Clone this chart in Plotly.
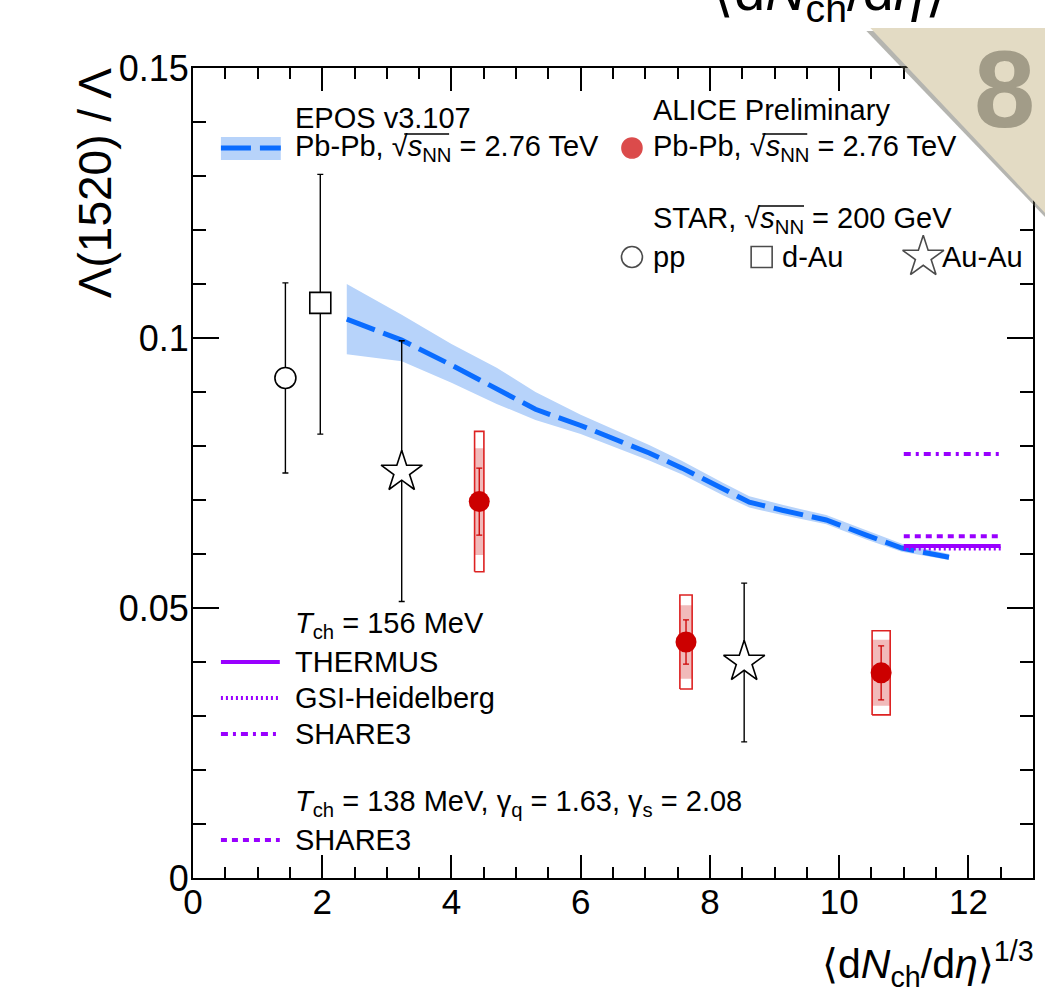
import plotly.graph_objects as go

# ---------------- data ----------------
# EPOS v3.107, Pb-Pb 2.76 TeV: central curve and uncertainty band
epos_x = [2.38, 3.23, 4.0, 4.7, 5.3, 6.0, 7.06, 7.57, 8.2, 8.61, 9.12, 9.8, 10.42, 10.97, 11.7]
epos_y = [0.1035, 0.0996, 0.0950, 0.0905, 0.0868, 0.0838, 0.0787, 0.0759, 0.0720, 0.0696, 0.0681, 0.0663, 0.0635, 0.0611, 0.0594]
epos_hi = [0.1100, 0.1043, 0.0989, 0.0945, 0.0900, 0.0858, 0.0802, 0.0772, 0.0732, 0.0707, 0.0691, 0.0672, 0.0644, 0.0619, 0.0600]
epos_lo = [0.0970, 0.0957, 0.0917, 0.0878, 0.0848, 0.0822, 0.0773, 0.0747, 0.0709, 0.0686, 0.0672, 0.0655, 0.0627, 0.0604, 0.0589]

# ALICE Preliminary, Pb-Pb 2.76 TeV
alice_x = [4.43, 7.63, 10.65]
alice_y = [0.0697, 0.0437, 0.0380]
alice_stat = [0.0062, 0.0041, 0.0050]
alice_sys_total = [0.0130, 0.0087, 0.0078]
alice_sys_uncorr = [0.0099, 0.0068, 0.0061]
alice_box_halfwidth = [0.072, 0.095, 0.14]

# STAR, 200 GeV
star_pp_x, star_pp_y, star_pp_up, star_pp_dn = [1.43], [0.0926], [0.0176], [0.0176]
star_dau_x, star_dau_y, star_dau_up, star_dau_dn = [1.97], [0.1065], [0.0238], [0.0243]
star_auau_x = [3.23, 8.53]
star_auau_y = [0.0752, 0.0400]
star_auau_up = [0.0243, 0.0146]
star_auau_dn = [0.0240, 0.0148]

# Statistical-model predictions (plotted over the most central range)
model_x = [11.0, 12.5]
thermus_156 = 0.0615
gsi_156 = 0.0610
share3_156 = 0.0785
share3_138 = 0.0633

x_ticks = [0, 2, 4, 6, 8, 10, 12]
y_ticks = [0, 0.05, 0.1, 0.15]
y_tick_text = ["0", "0.05", "0.1", "0.15"]

# ---------------- styling ----------------
W, H = 1045, 989
L, R, T, B = 193, 1035, 68, 878
FONT = "Liberation Sans, Arial, Helvetica, sans-serif"
BLUE = "#0a6cff"
BAND = "#b7d3fa"
RED = "#cc0000"
PURPLE = "#9900ff"
EPOS_DASH = "30px,9px"
LEG_SIZE = 29


def px(x):
    return (x - L) / (R - L)


def py(y):
    return (B - y) / (B - T)


fig = go.Figure()

# EPOS band and curve
fig.add_trace(go.Scatter(x=epos_x, y=epos_lo, mode="lines", line=dict(width=0),
                         hoverinfo="skip", showlegend=False))
fig.add_trace(go.Scatter(x=epos_x, y=epos_hi, mode="lines", line=dict(width=0),
                         fill="tonexty", fillcolor=BAND, showlegend=False))
fig.add_trace(go.Scatter(x=epos_x, y=epos_y, mode="lines",
                         line=dict(color=BLUE, width=5, dash=EPOS_DASH), showlegend=False))

# statistical-model lines
for val, dash in [(share3_156, "7px,5px,3px,5px"), (share3_138, "6px,5px"),
                  (thermus_156, "solid"), (gsi_156, "2px,3px")]:
    fig.add_trace(go.Scatter(x=model_x, y=[val, val], mode="lines",
                             line=dict(color=PURPLE, width=4, dash=dash), showlegend=False))


def boxes(xs, ys, dys, dxs):
    bx, by = [], []
    for x, y, dy, dx in zip(xs, ys, dys, dxs):
        bx += [x - dx, x + dx, x + dx, x - dx, x - dx, None]
        by += [y - dy, y - dy, y + dy, y + dy, y - dy, None]
    return bx, by


# ALICE systematic boxes: total (open) and uncorrelated (shaded)
bx, by = boxes(alice_x, alice_y, alice_sys_uncorr, alice_box_halfwidth)
fig.add_trace(go.Scatter(x=bx, y=by, mode="lines", fill="toself",
                         fillcolor="rgba(204,0,0,0.27)", line=dict(width=0), showlegend=False))
bx, by = boxes(alice_x, alice_y, alice_sys_total, alice_box_halfwidth)
fig.add_trace(go.Scatter(x=bx, y=by, mode="lines", line=dict(color="#dd2222", width=1.6),
                         showlegend=False))
fig.add_trace(go.Scatter(x=alice_x, y=alice_y, mode="markers",
                         marker=dict(symbol="circle", size=21, color=RED),
                         error_y=dict(type="data", array=alice_stat, color=RED,
                                      thickness=1.3, width=3),
                         showlegend=False))

# STAR points
star_marker_line = dict(color="black", width=1.6)
fig.add_trace(go.Scatter(x=star_pp_x, y=star_pp_y, mode="markers",
                         marker=dict(symbol="circle", size=21, color="white", line=star_marker_line),
                         error_y=dict(type="data", symmetric=False, array=star_pp_up,
                                      arrayminus=star_pp_dn, color="black", thickness=1.4, width=3),
                         showlegend=False))
fig.add_trace(go.Scatter(x=star_dau_x, y=star_dau_y, mode="markers",
                         marker=dict(symbol="square", size=21, color="white", line=star_marker_line),
                         error_y=dict(type="data", symmetric=False, array=star_dau_up,
                                      arrayminus=star_dau_dn, color="black", thickness=1.4, width=3),
                         showlegend=False))
fig.add_trace(go.Scatter(x=star_auau_x, y=star_auau_y, mode="markers",
                         marker=dict(symbol="star", size=31, color="white", line=star_marker_line),
                         error_y=dict(type="data", symmetric=False, array=star_auau_up,
                                      arrayminus=star_auau_dn, color="black", thickness=1.4, width=3),
                         showlegend=False))

# legend keys, placed on a pixel-scaled overlay axis pair
key_x = [633, 633, 763, 925]
key_y = [148, 257, 257, 257]
fig.add_trace(go.Scatter(x=key_x, y=key_y, xaxis="x2", yaxis="y2", mode="markers",
                         marker=dict(symbol=["circle", "circle", "square", "star"],
                                     size=[20, 21, 21, 31],
                                     color=[RED, "white", "white", "white"],
                                     line=dict(color=[RED, "black", "black", "black"], width=1.6)),
                         hoverinfo="skip", showlegend=False))

shapes = []
# EPOS legend key
shapes.append(dict(type="rect", xref="paper", yref="paper", x0=px(221), x1=px(281),
                   y0=py(160), y1=py(137), fillcolor=BAND, line=dict(width=0), layer="below"))
shapes.append(dict(type="line", xref="paper", yref="paper", x0=px(221), x1=px(281),
                   y0=py(148), y1=py(148), line=dict(color=BLUE, width=5, dash=EPOS_DASH)))
# model legend keys
for yk, dash in [(662, "solid"), (698, "2px,3px"), (734, "7px,5px,3px,5px"), (840, "6px,5px")]:
    shapes.append(dict(type="line", xref="paper", yref="paper", x0=px(221), x1=px(280),
                       y0=py(yk), y1=py(yk), line=dict(color=PURPLE, width=4, dash=dash)))

# page-number corner badge
tri = [(872, 28), (1048, 28), (1048, 214)]
shadow = [(868, 31), (1048, 31), (1048, 218)]


def path(pts):
    return "M " + " L ".join(f"{px(a):.5f},{py(b):.5f}" for a, b in pts) + " Z"


shapes.append(dict(type="path", xref="paper", yref="paper", path=path(shadow),
                   fillcolor="rgba(90,90,80,0.45)", line=dict(width=0), layer="above"))
shapes.append(dict(type="path", xref="paper", yref="paper", path=path(tri),
                   fillcolor="#e3dbc4", line=dict(width=0), layer="above"))

SQRT_S = "√<i>s</i><sub>NN</sub>"

labels = [
    (293, 118, "EPOS v3.107"),
    (293, 148, f"Pb-Pb, {SQRT_S} = 2.76 TeV"),
    (652, 110, "ALICE Preliminary"),
    (652, 148, f"Pb-Pb, {SQRT_S} = 2.76 TeV"),
    (652, 220, f"STAR, {SQRT_S} = 200 GeV"),
    (652, 257, "pp"),
    (781, 257, "d-Au"),
    (942, 257, "Au-Au"),
    (293, 625, "<i>T</i><sub>ch</sub> = 156 MeV"),
    (293, 662, "THERMUS"),
    (293, 698, "GSI-Heidelberg"),
    (293, 734, "SHARE3"),
    (293, 803, "<i>T</i><sub>ch</sub> = 138 MeV, γ<sub>q</sub> = 1.63, γ<sub>s</sub> = 2.08"),
    (293, 840, "SHARE3"),
]
annotations = []
for xl, yl, txt in labels:
    annotations.append(dict(x=px(xl), y=py(yl), xref="paper", yref="paper", text=txt,
                            xanchor="left", yanchor="middle", showarrow=False,
                            font=dict(family=FONT, size=LEG_SIZE, color="black")))

# vinculum over s_NN after each radical sign (prefix width in em of the legend font)
for xl, yl, prefix_em in [(293, 148, 3.335), (652, 148, 3.335), (652, 220, 3.223)]:
    x0 = xl + prefix_em * LEG_SIZE + 15
    shapes.append(dict(type="line", xref="paper", yref="paper", x0=px(x0), x1=px(x0 + 45),
                       y0=py(yl - 14), y1=py(yl - 14), line=dict(color="black", width=1.3)))

# axis titles
annotations.append(dict(x=px(95), y=py(66), xref="paper", yref="paper",
                        text="Λ(1520) / Λ", textangle=-90, xanchor="center", yanchor="top",
                        showarrow=False, font=dict(family=FONT, size=46, color="black")))
annotations.append(dict(x=px(1038), y=py(933), xref="paper", yref="paper",
                        text="⟨d<i>N</i><sub>ch</sub>/d<i>η</i>⟩<sup>1/3</sup>",
                        xanchor="right", yanchor="top", showarrow=False,
                        font=dict(family=FONT, size=41, color="black")))
# heading text running off the top of the page
annotations.append(dict(x=px(831), y=py(32), xref="paper", yref="paper",
                        text="⟨d<i>N</i><sub>ch</sub>/d<i>η</i>⟩",
                        xanchor="center", yanchor="bottom", showarrow=False,
                        font=dict(family=FONT, size=56, color="black")))
# badge number
annotations.append(dict(x=px(1006), y=py(88), xref="paper", yref="paper", text="<b>8</b>",
                        xanchor="center", yanchor="middle", showarrow=False,
                        font=dict(family=FONT, size=110, color="#a29c88")))

fig.update_layout(
    width=W, height=H,
    margin=dict(l=L, r=W - R, t=T, b=H - B, pad=0),
    paper_bgcolor="white", plot_bgcolor="white",
    font=dict(family=FONT, color="black"),
    showlegend=False,
    shapes=shapes,
    annotations=annotations,
    xaxis=dict(range=[0, 13], tickvals=x_ticks, ticks="inside", ticklen=23, tickwidth=1.5,
               tickcolor="black", showline=True, linecolor="black", linewidth=2,
               mirror="ticks", showgrid=False, zeroline=False, ticklabelstandoff=-8,
               tickfont=dict(family=FONT, size=35, color="black"),
               minor=dict(dtick=0.5, ticks="inside", ticklen=11, tickwidth=1.5,
                          tickcolor="black", showgrid=False)),
    yaxis=dict(range=[0, 0.15], tickvals=y_ticks, ticktext=y_tick_text, ticks="inside",
               ticklen=26, tickwidth=1.5, tickcolor="black", showline=True, linecolor="black",
               linewidth=2, mirror="ticks", showgrid=False, zeroline=False, ticklabelstandoff=-5,
               tickfont=dict(family=FONT, size=36, color="black"),
               minor=dict(dtick=0.01, ticks="inside", ticklen=13, tickwidth=1.5,
                          tickcolor="black", showgrid=False)),
    xaxis2=dict(range=[L, R], overlaying="x", anchor="y2", visible=False),
    yaxis2=dict(range=[B, T], overlaying="y", anchor="x2", visible=False),
)

fig.write_html("out.html")
